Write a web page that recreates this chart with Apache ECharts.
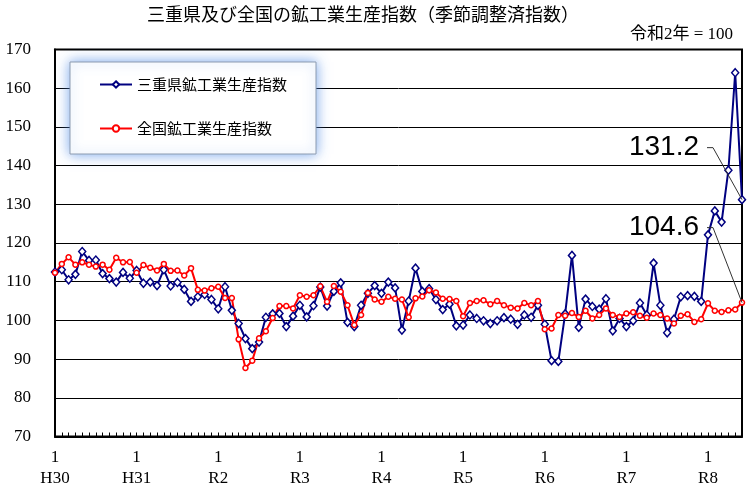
<!DOCTYPE html>
<html>
<head>
<meta charset="utf-8">
<script src="https://cdn.jsdelivr.net/npm/echarts@6/dist/echarts.min.js"></script>
<style>
  html, body { margin: 0; padding: 0; background: #fff; }
  #chart { width: 747px; height: 486px; }
</style>
</head>
<body>
<div id="chart"></div>
<script>
// 年（和暦）ラベル、各年1月に表示
const eraLabels = ['H30', 'H31', 'R2', 'R3', 'R4', 'R5', 'R6', 'R7', 'R8'];

// 三重県鉱工業生産指数（季節調整済）H30.1〜
const mieValues = [
  112.5, 113.1, 110.5, 111.9, 117.8, 115.5, 115.6, 112.1, 110.8, 109.9, 112.4, 110.9,
  112.9, 109.6, 109.9, 109.0, 113.1, 108.9, 109.8, 108.0, 104.9, 106.1, 106.7, 105.4,
  103.0, 108.7, 102.6, 99.2, 95.3, 92.7, 94.4, 100.8, 101.7, 101.8, 98.4, 101.1,
  103.9, 100.9, 103.8, 108.6, 103.7, 107.5, 109.7, 99.5, 98.4, 103.9, 107.0, 109.0,
  107.0, 109.9, 108.4, 97.5, 105.0, 113.5, 107.5, 108.2, 105.4, 102.8, 104.2, 98.6,
  98.8, 101.4, 100.5, 99.9, 99.2, 99.9, 100.7, 100.3, 99.0, 101.4, 100.8, 103.9,
  99.0, 89.6, 89.4, 101.7, 116.8, 98.2, 105.5, 103.6, 102.9, 105.6, 97.3, 100.5,
  98.4, 99.9, 104.5, 101.4, 114.8, 103.9, 96.8, 100.3, 106.1, 106.4, 106.2, 104.9,
  122.1, 128.3, 125.4, 138.8, 164.0, 131.2
];

// 全国鉱工業生産指数（季節調整済）
const zenkokuValues = [
  112.3, 114.6, 116.3, 114.4, 115.0, 114.4, 113.9, 114.4, 113.1, 116.2, 115.0, 115.1,
  112.3, 114.3, 113.6, 112.9, 114.6, 112.8, 112.9, 111.6, 113.5, 107.9, 107.7, 108.3,
  108.7, 105.8, 105.8, 95.1, 87.7, 89.6, 95.4, 97.2, 100.6, 103.7, 103.7, 103.1,
  106.5, 106.1, 106.5, 108.8, 104.8, 108.9, 107.4, 103.9, 98.8, 101.4, 107.1, 105.4,
  104.8, 106.1, 105.6, 105.4, 100.8, 105.7, 106.2, 107.8, 107.2, 105.6, 105.5, 105.0,
  101.1, 104.5, 105.0, 105.2, 104.2, 105.0, 103.9, 103.3, 103.1, 104.5, 103.9, 105.0,
  97.7, 97.9, 101.4, 101.2, 101.9, 100.9, 102.5, 100.5, 101.4, 103.1, 101.4, 100.9,
  101.8, 102.1, 101.2, 100.7, 101.8, 101.4, 100.5, 99.2, 101.2, 101.6, 99.6, 100.3,
  104.4, 102.5, 102.2, 102.6, 102.8, 104.6
];

// 月カテゴリ（H30.1, H30.2, ...）
const categories = [];
for (let e = 0; e < eraLabels.length; e++) {
  for (let m = 1; m <= 12; m++) {
    if (categories.length < mieValues.length) categories.push(eraLabels[e] + '.' + m);
  }
}

const serif = "'Liberation Serif', 'Noto Sans CJK JP'";
const gothic = "'Noto Sans CJK JP'";

const chart = echarts.init(document.getElementById('chart'));
const option = {
  animation: false,
  backgroundColor: '#fff',
  title: [{
    text: '三重県及び全国の鉱工業生産指数（季節調整済指数）',
    left: 147,
    top: 5,
    padding: 0,
    textStyle: { fontFamily: gothic, fontSize: 18, fontWeight: 'normal', color: '#000' }
  }, {
    text: '令和2年 = 100',
    right: 14,
    top: 26,
    padding: 0,
    textStyle: { fontFamily: serif, fontSize: 17, fontWeight: 'normal', color: '#000' }
  }],
  legend: {
    orient: 'vertical',
    left: 70,
    top: 62,
    padding: [15, 29, 18, 29],
    itemGap: 29,
    itemWidth: 32,
    itemHeight: 8,
    backgroundColor: '#fff',
    borderColor: '#8c9bb0',
    borderWidth: 1,
    shadowBlur: 12,
    shadowColor: 'rgba(80,140,230,0.75)',
    textStyle: { fontFamily: gothic, fontSize: 15, color: '#000' },
    data: ['三重県鉱工業生産指数', '全国鉱工業生産指数']
  },
  grid: {
    left: 55,
    right: 5,
    top: 49.5,
    bottom: 49.5,
    outerBoundsMode: 'none',
    show: true,
    borderColor: '#000',
    borderWidth: 2
  },
  xAxis: {
    type: 'category',
    data: categories,
    boundaryGap: false,
    axisLine: { lineStyle: { color: '#000', width: 2 } },
    axisTick: { show: true, inside: true, length: 4, interval: 0, lineStyle: { color: '#000' } },
    axisLabel: {
      interval: function (idx) { return idx % 12 === 0; },
      formatter: function (val) { return '1\n' + val.split('.')[0]; },
      fontFamily: serif,
      fontSize: 17,
      lineHeight: 21,
      margin: 11,
      color: '#000'
    },
    splitLine: { show: false }
  },
  yAxis: {
    type: 'value',
    min: 70,
    max: 170,
    interval: 10,
    axisLine: { show: true, lineStyle: { color: '#000', width: 2 } },
    axisTick: { show: false },
    axisLabel: { fontFamily: serif, fontSize: 17, color: '#000', margin: 24 },
    splitLine: { lineStyle: { color: '#000', width: 1 } }
  },
  series: [{
    name: '三重県鉱工業生産指数',
    type: 'line',
    data: mieValues,
    symbol: 'diamond',
    symbolSize: [7, 8],
    showAllSymbol: true,
    lineStyle: { color: '#000080', width: 2 },
    itemStyle: { color: '#fff', borderColor: '#000080', borderWidth: 1.5 }
  }, {
    name: '全国鉱工業生産指数',
    type: 'line',
    data: zenkokuValues,
    symbol: 'circle',
    symbolSize: 5,
    showAllSymbol: true,
    lineStyle: { color: '#ff0000', width: 2 },
    itemStyle: { color: '#fff', borderColor: '#ff0000', borderWidth: 1.5 }
  }]
};
chart.setOption(option);

// 最新値の注記（引き出し線付き）
const last = mieValues.length - 1;
const pMie = chart.convertToPixel({ seriesIndex: 0 }, [last, mieValues[last]]);
const pZen = chart.convertToPixel({ seriesIndex: 1 }, [last, zenkokuValues[last]]);
function note(p, value, dy) {
  const ty = p[1] + dy;
  return [{
    type: 'text',
    style: {
      x: p[0] - 43, y: ty, text: value.toFixed(1),
      align: 'right', verticalAlign: 'middle',
      font: "28px 'Liberation Sans Narrow', 'Liberation Sans'", fill: '#000'
    },
    z: 100
  }, {
    type: 'polyline',
    shape: { points: [[p[0] - 35, ty], [p[0] - 29, ty], [p[0], p[1]]] },
    style: { stroke: '#333', lineWidth: 1, fill: null },
    z: 100
  }];
}
chart.setOption({
  graphic: note(pMie, mieValues[last], -52).concat(note(pZen, zenkokuValues[last], -75))
});
</script>
</body>
</html>
